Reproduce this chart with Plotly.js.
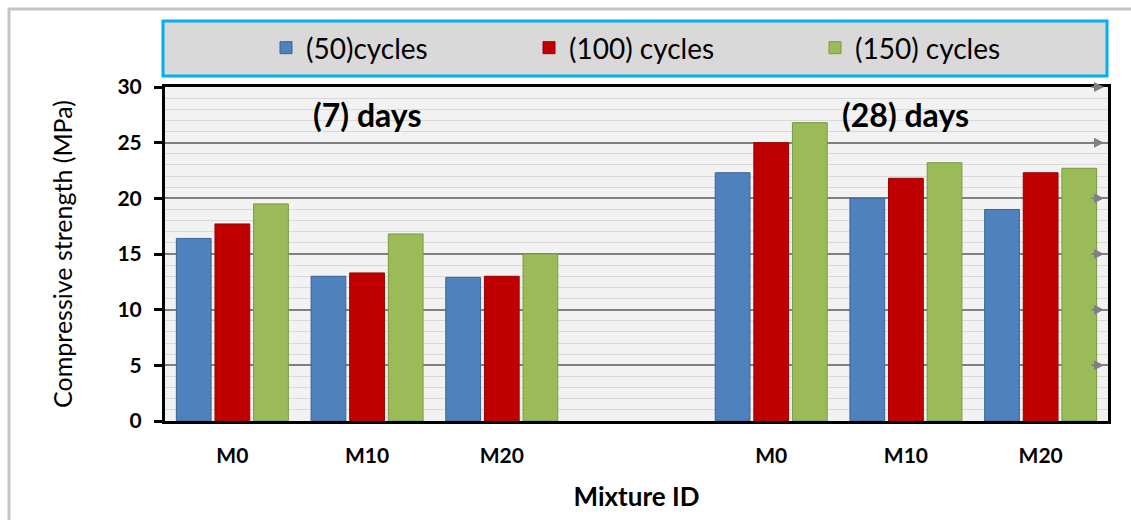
<!DOCTYPE html>
<html>
<head>
<meta charset="utf-8">
<script src="https://cdn.plot.ly/plotly-3.0.1.min.js"></script>
<style>html,body{margin:0;padding:0;background:#fff;}#chart{width:1131px;height:520px;}</style>
</head>
<body>
<div id="chart"></div>
<script>
// ---- data ----
const ages = ['(7) days', '(28) days'];
const mixtures = ['M0', 'M10', 'M20'];
const seriesNames = ['(50)cycles', '(100) cycles', '(150) cycles'];
const cycles50_7d  = [16.4, 13.0, 12.9];
const cycles100_7d = [17.7, 13.3, 13.0];
const cycles150_7d = [19.5, 16.8, 15.0];
const cycles50_28d  = [22.3, 20.0, 19.0];
const cycles100_28d = [25.0, 21.8, 22.3];
const cycles150_28d = [26.8, 23.2, 22.7];
const yTicks = [0, 5, 10, 15, 20, 25, 30];

// ---- styles ----
const fills = ['#4F81BD', '#C00000', '#9BBB59'];
const outlines = ['#3A6595', '#9A0000', '#7A9A42'];
const FONT = 'Lato, "Open Sans", sans-serif';

const spacer = ' ';
const keys = [];
const tickText = [];
ages.forEach((a, i) => {
  if (i > 0) { keys.push(spacer); tickText.push(''); }
  mixtures.forEach(m => { keys.push(a + '|' + m); tickText.push(m); });
});
function series(v7, v28) { return v7.concat([null], v28); }
const seriesVals = [
  series(cycles50_7d, cycles50_28d),
  series(cycles100_7d, cycles100_28d),
  series(cycles150_7d, cycles150_28d)
];
const legendIds = ['legend', 'legend2', 'legend3'];
const traces = seriesVals.map((vals, i) => ({
  type: 'bar', x: keys, y: vals, name: seriesNames[i], legend: legendIds[i],
  marker: {color: fills[i], line: {color: outlines[i], width: 1}},
  hoverinfo: 'x+y+name'
}));

// plot area in pixels: left 165, right 1108, top 87, bottom 421
const L = 165, R = 1108, T = 87, B = 421;
const px = x => (x - L) / (R - L);
const py = y => (B - y) / (B - T);

const textStarts = [306, 569, 855];
const legFont = {family: FONT, size: 28, color: '#000', weight: 400};
function legendAt(xs) {
  return {orientation: 'h', xref: 'paper', yref: 'paper', x: px(xs - 40), xanchor: 'left',
    y: py(48), yanchor: 'middle', bgcolor: 'rgba(0,0,0,0)', borderwidth: 0,
    font: legFont, itemclick: false};
}

const annotations = ages.map((a, i) => ({
  text: '<b>' + a + '</b>', xref: 'x', yref: 'paper',
  x: i === 0 ? 1 : 5, y: py(114), xanchor: 'center', yanchor: 'middle',
  showarrow: false, font: {family: FONT, size: 32, color: '#000'}
}));
yTicks.filter(v => v > 0).forEach(v => {
  annotations.push({xref: 'paper', yref: 'y', x: px(1104), y: v, text: '',
    showarrow: true, arrowhead: 2, arrowsize: 1, arrowwidth: 2, arrowcolor: '#808080',
    ax: -14, ay: 0, standoff: 0});
});

const layout = {
  width: 1131, height: 520,
  paper_bgcolor: '#FFFFFF', plot_bgcolor: '#F2F2F2',
  margin: {l: L, r: 1131 - R, t: T, b: 520 - B, pad: 0},
  barmode: 'group', bargap: 0.14, bargroupgap: 0.1,
  font: {family: FONT, color: '#000'},
  showlegend: true,
  legend: legendAt(textStarts[0]),
  legend2: legendAt(textStarts[1]),
  legend3: legendAt(textStarts[2]),
  xaxis: {
    type: 'category', categoryorder: 'array', categoryarray: keys,
    tickmode: 'array', tickvals: keys, ticktext: tickText,
    showgrid: false, zeroline: false, ticks: '', ticklabelstandoff: 14,
    tickfont: {family: FONT, size: 21, color: '#000', weight: 700},
    showline: true, linecolor: '#000', linewidth: 3, mirror: true,
    title: {text: '<b>Mixture ID</b>', font: {family: FONT, size: 26, color: '#000'}, standoff: 22}
  },
  yaxis: {
    range: [0, 30], tickmode: 'array', tickvals: yTicks,
    ticks: 'outside', ticklen: 8, tickwidth: 3, tickcolor: '#000', ticklabelstandoff: 8,
    tickfont: {family: FONT, size: 21, color: '#000', weight: 700},
    showline: true, linecolor: '#000', linewidth: 3, mirror: true,
    showgrid: true, gridcolor: '#808080', gridwidth: 2, zeroline: false,
    minor: {dtick: 1, showgrid: true, gridcolor: '#D9D9D9', gridwidth: 1, ticks: ''},
    title: {text: 'Compressive strength (MPa)', font: {family: FONT, size: 25, color: '#000'}, standoff: 38}
  },
  shapes: [
    {type: 'rect', xref: 'paper', yref: 'paper', layer: 'below',
     x0: px(9), x1: px(1200), y0: py(700), y1: py(9),
     line: {color: '#C4C4C4', width: 3}, fillcolor: 'rgba(0,0,0,0)'},
    {type: 'rect', xref: 'paper', yref: 'paper', layer: 'below',
     x0: px(163), x1: px(1107), y0: py(76), y1: py(21),
     line: {color: '#00B0F0', width: 3}, fillcolor: '#D9D9D9'}
  ],
  annotations: annotations
};

Plotly.newPlot('chart', traces, layout, {displayModeBar: false, staticPlot: true});
</script>
</body>
</html>
